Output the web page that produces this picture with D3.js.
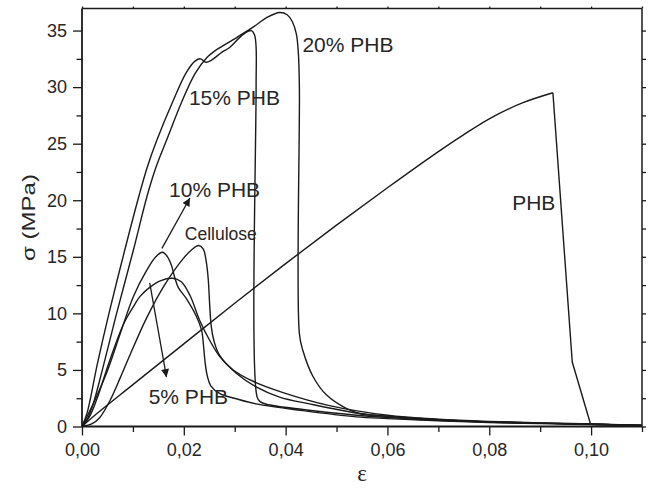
<!DOCTYPE html>
<html>
<head>
<meta charset="utf-8">
<script src="https://cdn.jsdelivr.net/npm/d3@7"></script>
<style>
  html, body { margin: 0; padding: 0; background: #fff; }
  svg { display: block; }
</style>
</head>
<body>
<svg id="chart" width="648" height="489"></svg>
<script>
// Stress–strain curves: [strain ε, stress σ (MPa)]
const seriesPHB = [
  [0, 0], [0.002, 0.8], [0.01, 3.7], [0.02, 7.3], [0.03, 10.9], [0.04, 14.4],
  [0.05, 17.8], [0.06, 21.1], [0.07, 24.3], [0.075, 25.8], [0.08, 27.2],
  [0.0865, 28.6], [0.0925, 29.5], [0.0963, 5.7], [0.0999, 0.2], [0.11, 0.1]
];
const series20PHB = [
  [0, 0], [0.001, 0.6], [0.0022, 2.0], [0.004, 5.0], [0.0068, 10.0], [0.0101, 15.6],
  [0.0128, 20.4], [0.0146, 23.0], [0.0166, 25.3], [0.0195, 28.6], [0.0222, 31.2], [0.0245, 32.6],
  [0.0264, 33.3], [0.0297, 34.2], [0.0336, 35.3], [0.0365, 36.2], [0.0388, 36.6],
  [0.0403, 36.4], [0.0413, 35.8], [0.0421, 34.7], [0.0425, 33.0], [0.0427, 30.0],
  [0.0427, 8.2], [0.0434, 6.7], [0.0454, 4.4], [0.048, 2.8], [0.0519, 1.6],
  [0.0545, 1.15], [0.06, 0.9], [0.07, 0.6], [0.08, 0.4], [0.09, 0.3], [0.1, 0.2], [0.11, 0.1]
];
const series15PHB = [
  [0, 0], [0.001, 1.2], [0.003, 5.5], [0.0053, 10.0], [0.0084, 15.6], [0.0112, 20.4],
  [0.0128, 22.9], [0.0146, 25.2], [0.0179, 28.8], [0.0205, 31.3], [0.0222, 32.3], [0.0233, 32.5],
  [0.0243, 32.2], [0.0255, 32.4], [0.0275, 33.1], [0.029, 33.5], [0.031, 34.4],
  [0.0325, 34.9], [0.0333, 35.0], [0.0339, 34.6], [0.0342, 33.5], [0.0342, 30.0],
  [0.0344, 2.6], [0.035, 2.2], [0.0362, 1.97], [0.0434, 1.5], [0.0539, 1.0],
  [0.06, 0.8], [0.07, 0.55], [0.08, 0.4], [0.09, 0.3], [0.1, 0.2], [0.11, 0.1]
];
const series10PHB = [
  [0, 0], [0.0022, 2.0], [0.0048, 4.7], [0.0075, 8.2], [0.0101, 11.5], [0.0127, 13.8],
  [0.0145, 15.0], [0.0158, 15.4], [0.0168, 15.0], [0.0176, 14.2], [0.0182, 13.2],
  [0.0189, 12.3], [0.0205, 11.3], [0.0225, 9.7], [0.0235, 8.5], [0.0239, 7.0],
  [0.0242, 5.6], [0.0246, 4.5], [0.0253, 3.6], [0.0271, 2.9], [0.0303, 2.45],
  [0.0342, 2.0], [0.0434, 1.4], [0.0539, 0.85], [0.06, 0.7], [0.07, 0.5],
  [0.08, 0.35], [0.09, 0.25], [0.1, 0.18], [0.11, 0.1]
];
const seriesCellulose = [
  [0, 0], [0.002, 0.25], [0.0035, 0.8], [0.0055, 2.3], [0.0075, 4.3], [0.0094, 6.3],
  [0.0127, 9.6], [0.0162, 12.5], [0.0198, 14.8], [0.0215, 15.6], [0.0229, 16.0],
  [0.0238, 15.7], [0.0244, 14.6], [0.0248, 13.0], [0.0251, 10.6], [0.0254, 8.8],
  [0.0259, 7.6], [0.027, 6.3], [0.0303, 4.7], [0.0342, 3.5], [0.0388, 2.6],
  [0.0447, 2.0], [0.0545, 1.15], [0.06, 0.9], [0.07, 0.6], [0.08, 0.42],
  [0.09, 0.3], [0.1, 0.2], [0.11, 0.1]
];
const series5PHB = [
  [0, 0], [0.0015, 0.9], [0.0029, 2.4], [0.0055, 5.9], [0.0081, 9.0], [0.0101, 10.6],
  [0.0114, 11.5], [0.0133, 12.3], [0.0155, 12.9], [0.0178, 13.1], [0.0195, 12.8],
  [0.0212, 11.6], [0.0231, 9.4], [0.0251, 7.6], [0.0271, 6.15], [0.0297, 5.0],
  [0.0336, 4.0], [0.0395, 3.0], [0.0486, 1.85], [0.06, 1.0], [0.07, 0.65],
  [0.08, 0.45], [0.09, 0.32], [0.1, 0.22], [0.11, 0.1]
];

// Axis ticks
const strainTicks = [0, 0.02, 0.04, 0.06, 0.08, 0.10];
const strainMinorTicks = [0.01, 0.03, 0.05, 0.07, 0.09, 0.11];
const stressTicks = [0, 5, 10, 15, 20, 25, 30, 35];
const stressMinorTicks = [2.5, 7.5, 12.5, 17.5, 22.5, 27.5, 32.5];

// Curve labels, anchored in data units (strain, stress)
const curveLabels = ["20% PHB", "15% PHB", "10% PHB", "Cellulose", "5% PHB", "PHB"];
const labelStrain = [0.0433, 0.0210, 0.0171, 0.0202, 0.0131, 0.0845];
const labelStress = [33.1, 28.4, 20.3, 16.5, 2.0, 19.1];

// Arrows from a curve towards its label: [from strain, from stress, to strain, to stress]
const arrowPaths = [
  [0.0157, 15.75, 0.0212, 20.2],
  [0.0133, 12.7, 0.0166, 4.36]
];

const FONT = "'Liberation Sans', Arial, Helvetica, sans-serif";
const INK = "#1a1a1a";
const TEXT = "#262626";

const svg = d3.select("#chart");
const x = d3.scaleLinear().domain([0, 0.11]).range([82, 642]);
const y = d3.scaleLinear().domain([0, 36.95]).range([426.5, 8.5]);

const commaLocale = d3.formatLocale({ decimal: ",", thousands: ".", grouping: [3], currency: ["", ""] });
const fmtStrain = commaLocale.format(".2f");

// Curves
const smooth = d3.line().x(d => x(d[0])).y(d => y(d[1])).curve(d3.curveCatmullRom.alpha(0.5));
const straight = d3.line().x(d => x(d[0])).y(d => y(d[1]));

const curves = svg.append("g").attr("fill", "none").attr("stroke", INK)
  .attr("stroke-width", 1.4).attr("stroke-linejoin", "round");
[series20PHB, series15PHB, series10PHB, seriesCellulose, series5PHB].forEach(s => {
  curves.append("path").attr("d", smooth(s));
});
// PHB: smooth loading branch up to the break, straight segments after it
const phbPeak = d3.maxIndex(seriesPHB, d => d[1]);
curves.append("path").attr("d", smooth(seriesPHB.slice(0, phbPeak + 1)));
curves.append("path").attr("d", straight(seriesPHB.slice(phbPeak)));

// Axes
function styleAxis(g) {
  g.select(".domain").remove();
  g.selectAll(".tick line").attr("stroke", INK).attr("stroke-width", 1.3);
  g.selectAll(".tick text").attr("fill", TEXT).style("font-family", FONT).style("font-size", "18px");
}

svg.append("g").attr("transform", `translate(0,${y(0)})`)
  .call(d3.axisBottom(x).tickValues(strainTicks).tickSize(9).tickPadding(8).tickFormat(fmtStrain))
  .call(styleAxis);
svg.append("g").attr("transform", `translate(0,${y(0)})`)
  .call(d3.axisBottom(x).tickValues(strainMinorTicks).tickSize(5.5).tickFormat(""))
  .call(styleAxis);
svg.append("g").attr("transform", `translate(${x(0)},0)`)
  .call(d3.axisLeft(y).tickValues(stressTicks).tickSize(9).tickPadding(6).tickFormat(d3.format("d")))
  .call(styleAxis);
svg.append("g").attr("transform", `translate(${x(0)},0)`)
  .call(d3.axisLeft(y).tickValues(stressMinorTicks).tickSize(5.5).tickFormat(""))
  .call(styleAxis);
// Top and right mirror axes with short outward ticks
svg.append("g").attr("transform", `translate(0,${y.range()[1]})`)
  .call(d3.axisTop(x).tickValues(strainTicks.concat(strainMinorTicks)).tickSize(2).tickFormat(""))
  .call(styleAxis);
svg.append("g").attr("transform", `translate(${x.range()[1]},0)`)
  .call(d3.axisRight(y).tickValues(stressTicks.concat(stressMinorTicks)).tickSize(4).tickFormat(""))
  .call(styleAxis);

// Frame
const [x0, x1] = x.range();
const [y0, y1] = y.range();
const frame = svg.append("g").attr("stroke", INK).attr("fill", "none");
frame.append("line").attr("x1", x0).attr("x2", x1).attr("y1", y0).attr("y2", y0).attr("stroke-width", 1.8);
frame.append("line").attr("x1", x0).attr("x2", x0).attr("y1", y0).attr("y2", y1).attr("stroke-width", 1.8);
frame.append("line").attr("x1", x0).attr("x2", x1).attr("y1", y1).attr("y2", y1).attr("stroke-width", 1.5);
frame.append("line").attr("x1", x1).attr("x2", x1).attr("y1", y0).attr("y2", y1).attr("stroke-width", 1.5);

// Axis titles
svg.append("text")
  .attr("x", (x0 + x1) / 2).attr("y", 481)
  .attr("text-anchor", "middle").attr("fill", TEXT)
  .style("font-family", "'Liberation Serif', 'Times New Roman', serif").style("font-size", "23px")
  .text("ε");
svg.append("text")
  .attr("transform", `translate(35,${(y0 + y1) / 2}) rotate(-90)`)
  .attr("text-anchor", "middle").attr("fill", TEXT)
  .attr("textLength", 87).attr("lengthAdjust", "spacingAndGlyphs")
  .style("font-family", FONT).style("font-size", "19px")
  .text("σ (MPa)");

// Curve labels
svg.append("g").selectAll("text").data(curveLabels).join("text")
  .attr("x", (d, i) => x(labelStrain[i]))
  .attr("y", (d, i) => y(labelStress[i]))
  .attr("fill", TEXT)
  .style("font-family", FONT)
  .style("font-size", d => d === "Cellulose" ? "17.5px" : "21px")
  .text(d => d);

// Arrows
svg.append("defs").append("marker")
  .attr("id", "head").attr("viewBox", "0 0 10 10").attr("refX", 10).attr("refY", 5)
  .attr("markerUnits", "userSpaceOnUse").attr("markerWidth", 11).attr("markerHeight", 8)
  .attr("orient", "auto")
  .append("path").attr("d", "M0,0 L10,5 L0,10 Z").attr("fill", INK);
svg.append("g").selectAll("line").data(arrowPaths).join("line")
  .attr("x1", d => x(d[0])).attr("y1", d => y(d[1]))
  .attr("x2", d => x(d[2])).attr("y2", d => y(d[3]))
  .attr("stroke", INK).attr("stroke-width", 1.3)
  .attr("marker-end", "url(#head)");
</script>
</body>
</html>
